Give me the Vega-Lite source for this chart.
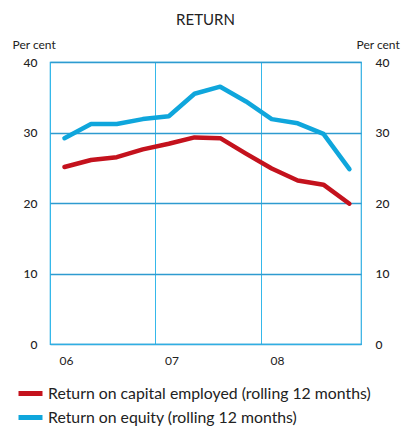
{
  "$schema": "https://vega.github.io/schema/vega-lite/v6.json",
  "width": 311,
  "height": 282,
  "autosize": {"type": "none"},
  "padding": {"left": 50, "top": 62, "right": 41, "bottom": 83},
  "title": {"text": "RETURN", "anchor": "middle", "fontSize": 15, "font": "Lato", "fontWeight": "normal", "color": "#222", "frame": "group", "offset": 10},
  "config": {
    "font": "Lato",
    "view": {"stroke": "#30aee3", "strokeWidth": 1.2}
  },
  "data": {"values": [
    {"date": "2006-02-20", "series": "Return on capital employed (rolling 12 months)", "value": 25.1},
    {"date": "2006-05-23", "series": "Return on capital employed (rolling 12 months)", "value": 26.1},
    {"date": "2006-08-20", "series": "Return on capital employed (rolling 12 months)", "value": 26.5},
    {"date": "2006-11-18", "series": "Return on capital employed (rolling 12 months)", "value": 27.6},
    {"date": "2007-02-16", "series": "Return on capital employed (rolling 12 months)", "value": 28.4},
    {"date": "2007-05-16", "series": "Return on capital employed (rolling 12 months)", "value": 29.3},
    {"date": "2007-08-13", "series": "Return on capital employed (rolling 12 months)", "value": 29.2},
    {"date": "2007-11-10", "series": "Return on capital employed (rolling 12 months)", "value": 27.0},
    {"date": "2008-02-07", "series": "Return on capital employed (rolling 12 months)", "value": 24.9},
    {"date": "2008-05-07", "series": "Return on capital employed (rolling 12 months)", "value": 23.2},
    {"date": "2008-08-04", "series": "Return on capital employed (rolling 12 months)", "value": 22.6},
    {"date": "2008-11-02", "series": "Return on capital employed (rolling 12 months)", "value": 19.9},
    {"date": "2006-02-20", "series": "Return on equity (rolling 12 months)", "value": 29.2},
    {"date": "2006-05-23", "series": "Return on equity (rolling 12 months)", "value": 31.2},
    {"date": "2006-08-20", "series": "Return on equity (rolling 12 months)", "value": 31.2},
    {"date": "2006-11-18", "series": "Return on equity (rolling 12 months)", "value": 31.9},
    {"date": "2007-02-16", "series": "Return on equity (rolling 12 months)", "value": 32.3},
    {"date": "2007-05-16", "series": "Return on equity (rolling 12 months)", "value": 35.5},
    {"date": "2007-08-13", "series": "Return on equity (rolling 12 months)", "value": 36.5},
    {"date": "2007-11-10", "series": "Return on equity (rolling 12 months)", "value": 34.4},
    {"date": "2008-02-07", "series": "Return on equity (rolling 12 months)", "value": 31.9},
    {"date": "2008-05-07", "series": "Return on equity (rolling 12 months)", "value": 31.3},
    {"date": "2008-08-04", "series": "Return on equity (rolling 12 months)", "value": 29.8},
    {"date": "2008-11-02", "series": "Return on equity (rolling 12 months)", "value": 24.8}
  ]},
  "layer": [
    {
      "mark": {"type": "line", "strokeWidth": 4.5, "strokeCap": "round", "strokeJoin": "round"},
      "encoding": {
        "x": {
          "field": "date", "type": "temporal",
          "scale": {"domain": ["2006-01-01T00:00:00", "2008-12-12T00:00:00"]},
          "axis": {
            "title": null, "values": ["2006-01-01T00:00:00", "2007-01-01T00:00:00", "2008-01-01T00:00:00"],
            "format": "%y", "labelAlign": "left", "labelOffset": 9, "labelPadding": 11,
            "labelFontSize": 12, "labelColor": "#222", "ticks": false,
            "domainColor": "#30aee3", "domainWidth": 1.2,
            "grid": true, "gridColor": "#35b8ea", "gridWidth": 1
          }
        },
        "y": {
          "field": "value", "type": "quantitative",
          "scale": {"domain": [0, 40]},
          "axis": {
            "orient": "left",
            "title": "Per cent", "titleAngle": 0, "titleAlign": "left", "titleBaseline": "alphabetic", "titleX": -38, "titleY": -14,
            "titleFontSize": 12, "titleFontWeight": "normal", "titleColor": "#222",
            "values": [0, 10, 20, 30, 40], "ticks": false, "domain": false,
            "grid": true, "gridColor": "#2e9bd0", "gridWidth": 1.5,
            "labelPadding": 13, "labelFontSize": 12, "labelColor": "#222", "labelFontWeight": 500
          }
        },
        "color": {
          "field": "series", "type": "nominal",
          "scale": {
            "domain": ["Return on capital employed (rolling 12 months)", "Return on equity (rolling 12 months)"],
            "range": ["#c4121d", "#0fa6dc"]
          },
          "legend": {
            "title": null, "orient": "none", "legendX": -28, "legendY": 323,
            "symbolType": "M-2,0H2", "symbolSize": 144, "symbolStrokeWidth": 5,
            "labelFontSize": 15.8, "labelColor": "#222", "labelOffset": 9, "rowPadding": 3, "labelLimit": 400
          }
        }
      }
    },
    {
      "mark": {"type": "rule", "opacity": 0},
      "data": {"values": [{"v": 0}]},
      "encoding": {
        "y": {
          "field": "v", "type": "quantitative", "scale": {"domain": [0, 40]},
          "axis": {
            "orient": "right", "title": "Per cent", "titleAngle": 0, "titleAlign": "left", "titleBaseline": "alphabetic", "titleX": -5, "titleY": -14,
            "titleFontSize": 12, "titleFontWeight": "normal", "titleColor": "#222",
            "values": [0, 10, 20, 30, 40], "ticks": false, "domain": false, "grid": false,
            "labelPadding": 14, "labelFontSize": 12, "labelColor": "#222", "labelFontWeight": 500
          }
        }
      }
    }
  ],
  "resolve": {"axis": {"y": "independent"}}
}
